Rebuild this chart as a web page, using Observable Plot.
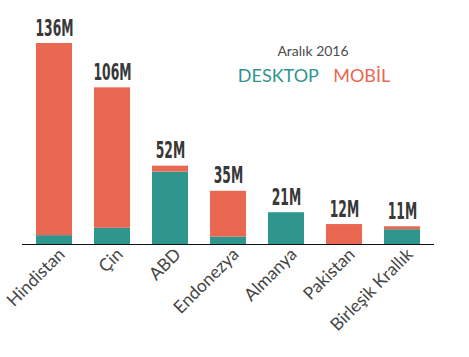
<!DOCTYPE html>
<html><head><meta charset="utf-8">
<script src="https://cdn.jsdelivr.net/npm/d3@7"></script>
<script src="https://cdn.jsdelivr.net/npm/@observablehq/plot@0.6"></script>
<style>
body{margin:0;background:#fff;}
#chart svg{display:block;}
</style></head><body><div id="chart"></div>
<script>
const countries = ["Hindistan","Çin","ABD","Endonezya","Almanya","Pakistan","Birleşik Krallık"];
const desktop = [6, 11, 49, 5, 21.5, 0, 10];
const mobile = [130, 95, 4, 31, 0, 13.5, 2];
const totalLabels = ["136M","106M","52M","35M","21M","12M","11M"];
const seriesNames = ["DESKTOP","MOBİL"];
const seriesColors = ["#2e968c","#ea6751"];
const title = "Aralık 2016";

const rows = [];
countries.forEach((c,i)=>{
  rows.push({country:c, series:seriesNames[0], value:desktop[i]});
  rows.push({country:c, series:seriesNames[1], value:mobile[i]});
});
const totals = countries.map((c,i)=>({country:c, total: desktop[i]+mobile[i], label: totalLabels[i]}));

const sans = "Lato, 'Open Sans', sans-serif";
const chart = Plot.plot({
  width:469, height:357,
  marginLeft:22, marginRight:35, marginTop:43, marginBottom:113,
  style:{background:"#fff"},
  x:{domain:countries, paddingInner:0.38, paddingOuter:0.24, axis:null},
  y:{domain:[0,136], axis:null},
  color:{domain:seriesNames, range:seriesColors},
  marks:[
    Plot.barY(rows, {x:"country", y:"value", fill:"series"}),
    Plot.ruleY([0], {stroke:"#111", strokeWidth:1}),
    Plot.axisX({label:null, tickSize:0, tickRotate:-45, tickPadding:7, dx:7.5, fontSize:17.5, fontWeight:400, fill:"#454545", fontFamily:sans}),
    Plot.text(totals, {x:"country", y:"total", text:"label", dy:-8, lineAnchor:"bottom", fontSize:23, fontWeight:"bold", fill:"#383838", fontFamily:"'Liberation Sans Narrow', 'DejaVu Sans Condensed', sans-serif"}),
    Plot.text([title], {frameAnchor:"top-left", dx:290.5, dy:12, lineAnchor:"bottom", textAnchor:"middle", fontSize:14, fontWeight:400, fill:"#4d4d4d", fontFamily:sans}),
    Plot.text([seriesNames[0]], {frameAnchor:"top-left", dx:215.3, dy:38.7, lineAnchor:"bottom", textAnchor:"start", fontSize:18, fontWeight:400, fill:seriesColors[0], fontFamily:sans}),
    Plot.text([seriesNames[1]], {frameAnchor:"top-left", dx:310.7, dy:38.7, lineAnchor:"bottom", textAnchor:"start", fontSize:18, fontWeight:400, fill:seriesColors[1], fontFamily:sans})
  ]
});
document.getElementById("chart").append(chart);
const labelSet = new Set(totalLabels);
const texts = Array.from(chart.querySelectorAll("text")).filter(t => labelSet.has(t.textContent));
const ref = texts.find(t => t.textContent === totalLabels[0]);
const k = 38 / ref.getComputedTextLength();
texts.forEach(t => {
  const w = t.getComputedTextLength();
  t.setAttribute("textLength", (w*k).toFixed(1));
  t.setAttribute("lengthAdjust", "spacingAndGlyphs");
});
</script></body></html>
